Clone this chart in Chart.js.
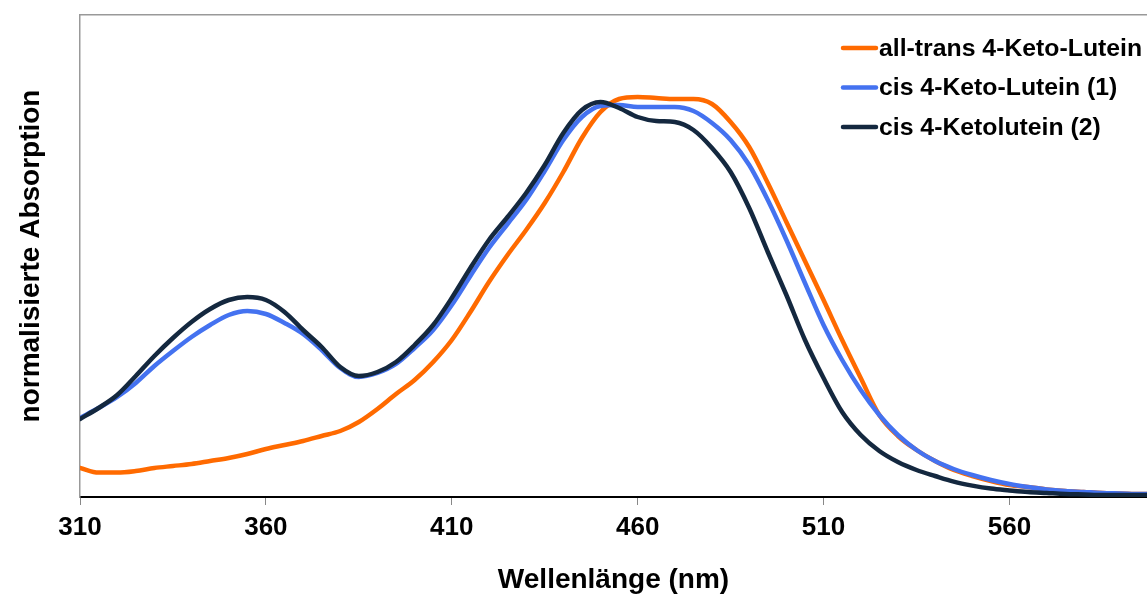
<!DOCTYPE html>
<html>
<head>
<meta charset="utf-8">
<script src="https://cdn.jsdelivr.net/npm/chart.js@4/dist/chart.umd.min.js"></script>
<style>
html,body{margin:0;padding:0;background:#fff;}
#wrap{width:1147px;height:597px;}
</style>
</head>
<body>
<div id="wrap"><canvas id="c" width="1147" height="597"></canvas></div>
<script>
const wavelengths = [310,315,320,325,330,335,340,345,350,355,360,365,370,375,380,385,390,395,400,405,410,415,420,425,430,435,440,445,450,455,460,465,470,475,480,485,490,495,500,505,510,515,520,525,530,535,540,545,550,555,560,565,570,575,580,585,590,595,597];
const allTrans = [0.0725,0.061,0.061,0.065,0.0725,0.0775,0.0825,0.09,0.0975,0.1075,0.12,0.13,0.14,0.1525,0.165,0.1875,0.22,0.2575,0.2925,0.3375,0.3925,0.4625,0.5375,0.605,0.6675,0.735,0.8125,0.8975,0.9625,0.995,1.0,0.9975,0.995,0.995,0.9825,0.9375,0.875,0.785,0.6875,0.59,0.4925,0.3925,0.2975,0.205,0.1525,0.1175,0.09,0.0675,0.0525,0.04,0.03,0.025,0.019,0.015,0.0125,0.01,0.009,0.0075,0.0075];
const cis1 = [0.1975,0.2225,0.25,0.285,0.3275,0.365,0.4,0.43,0.455,0.465,0.4575,0.435,0.4075,0.3675,0.3225,0.3,0.31,0.3325,0.3725,0.4175,0.48,0.5525,0.6225,0.6825,0.7425,0.815,0.8925,0.95,0.9775,0.98,0.975,0.975,0.975,0.965,0.935,0.8925,0.83,0.7425,0.6425,0.535,0.43,0.3425,0.2675,0.205,0.155,0.1175,0.09,0.07,0.055,0.0425,0.0325,0.025,0.019,0.015,0.0125,0.01,0.009,0.0075,0.0075];
const cis2 = [0.195,0.2225,0.255,0.3025,0.3525,0.3975,0.4375,0.47,0.4925,0.5,0.4925,0.4625,0.4175,0.375,0.325,0.3025,0.3125,0.3375,0.38,0.43,0.4975,0.5725,0.6425,0.7,0.76,0.83,0.91,0.9675,0.9875,0.9725,0.95,0.94,0.9375,0.9175,0.8725,0.8125,0.7225,0.6125,0.505,0.3925,0.2975,0.2125,0.155,0.115,0.0875,0.0675,0.0525,0.0385,0.0285,0.021,0.0165,0.0125,0.01,0.0075,0.00625,0.005,0.005,0.005,0.005];
const xTicks = [310,360,410,460,510,560];
const seriesNames = ['all-trans 4-Keto-Lutein','cis 4-Keto-Lutein (1)','cis 4-Ketolutein (2)'];
const seriesColors = ['#FF6A00','#4472F0','#14283F'];

const pts = arr => arr.map((v,i)=>({x:wavelengths[i], y:v}));
const FONT = '"Liberation Sans", Arial, sans-serif';

const legendPlugin = {
  id: 'insideLegend',
  afterDraw(chart){
    const ctx = chart.ctx, ca = chart.chartArea;
    ctx.save();
    ctx.font = 'bold 24.8px ' + FONT;
    ctx.textBaseline = 'middle';
    ctx.textAlign = 'left';
    chart.data.datasets.forEach((ds,i)=>{
      const y = ca.top + 33 + i*39.5;
      const x0 = ca.right - 304;
      ctx.strokeStyle = ds.borderColor;
      ctx.lineWidth = 4.5;
      ctx.lineCap = 'round';
      ctx.beginPath(); ctx.moveTo(x0, y); ctx.lineTo(x0+33, y); ctx.stroke();
      ctx.fillStyle = '#000';
      ctx.fillText(ds.label, x0+36, y+1);
    });
    ctx.restore();
  }
};

new Chart(document.getElementById('c'), {
  type: 'line',
  data: {
    datasets: [
      {label: seriesNames[0], data: pts(allTrans), borderColor: seriesColors[0], order: 3},
      {label: seriesNames[1], data: pts(cis1), borderColor: seriesColors[1], order: 2},
      {label: seriesNames[2], data: pts(cis2), borderColor: seriesColors[2], order: 1}
    ]
  },
  options: {
    responsive: false,
    animation: false,
    layout: {padding: 0},
    elements: {
      point: {radius: 0},
      line: {borderWidth: 4.5, cubicInterpolationMode: 'monotone', fill: false, borderCapStyle: 'round'}
    },
    plugins: {legend: {display: false}, tooltip: {enabled: false}},
    scales: {
      x: {
        type: 'linear', position: 'bottom', min: 310, max: 597,
        afterBuildTicks: s => { s.ticks = xTicks.map(v=>({value:v})); },
        afterFit: s => { s.height = 100; },
        grid: {display: true, drawOnChartArea: false, drawTicks: true, tickLength: 8, color: '#888', lineWidth: 1},
        border: {display: true, color: '#000', width: 2},
        ticks: {color: '#000', font: {family: FONT, size: 26, weight: 'bold'}, padding: 7, maxRotation: 0, autoSkip: false},
        title: {display: true, text: 'Wellenlänge (nm)', color: '#000', font: {family: FONT, size: 28, weight: 'bold'}, padding: {top: 0, bottom: 0}}
      },
      x2: {
        type: 'linear', position: 'top', min: 310, max: 597,
        afterFit: s => { s.height = 15; },
        grid: {display: false}, ticks: {display: false},
        border: {display: true, color: '#999', width: 1.5}
      },
      y: {
        type: 'linear', position: 'left', min: 0, max: 1.205,
        afterFit: s => { s.width = 80; },
        grid: {display: false}, ticks: {display: false},
        border: {display: true, color: '#999', width: 1.5},
        title: {display: true, text: 'normalisierte Absorption', color: '#000', font: {family: FONT, size: 28, weight: 'bold'}, padding: {top: 14, bottom: 0}}
      }
    }
  },
  plugins: [legendPlugin]
});
</script>
</body>
</html>
